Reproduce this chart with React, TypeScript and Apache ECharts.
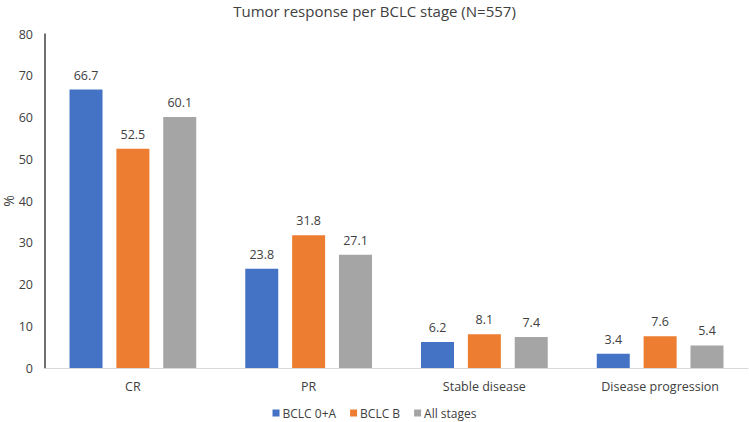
import React, { useEffect, useRef } from "react";
import * as echarts from "echarts";

const categories = ["CR", "PR", "Stable disease", "Disease progression"];
const seriesNames = ["BCLC 0+A", "BCLC B", "All stages"];
const bclc0A = [66.7, 23.8, 6.2, 3.4];
const bclcB = [52.5, 31.8, 8.1, 7.6];
const allStages = [60.1, 27.1, 7.4, 5.4];
const colors = ["#4472C4", "#ED7D31", "#A5A5A5"];

export default function App() {
  const ref = useRef<HTMLDivElement>(null);
  useEffect(() => {
    const chart = echarts.init(ref.current!, null, { renderer: "svg" });
    const font = "'Open Sans', sans-serif";
    const data = [bclc0A, bclcB, allStages];
    chart.setOption({
      animation: false,
      textStyle: { fontFamily: font },
      title: {
        text: "Tumor response per BCLC stage (N=557)",
        left: "center",
        top: 3,
        padding: 0,
        textStyle: { fontSize: 15, fontWeight: "normal", color: "#404040", fontFamily: font },
      },
      legend: {
        bottom: 3,
        left: "center",
        padding: 0,
        itemWidth: 7,
        itemHeight: 7,
        itemGap: 14,
        icon: "rect",
        textStyle: { fontSize: 12, color: "#404040", fontFamily: font, padding: [0, 0, 0, -2] },
        data: seriesNames,
      },
      grid: { left: 45, right: 1, top: 34, bottom: 54, outerBoundsMode: "none", containLabel: false },
      xAxis: {
        type: "category",
        data: categories,
        axisLine: { lineStyle: { color: "#D9D9D9", width: 1 } },
        axisTick: { show: false },
        axisLabel: { fontSize: 12.5, color: "#404040", margin: 12, fontFamily: font },
      },
      yAxis: {
        type: "value",
        min: 0,
        max: 80,
        interval: 10,
        name: "%",
        nameLocation: "middle",
        nameGap: 31,
        nameMoveOverlap: false,
        nameTextStyle: { fontSize: 14, lineHeight: 12, color: "#404040", fontFamily: font },
        axisLine: { show: true, lineStyle: { color: "#404040", width: 1.5 } },
        axisTick: { show: false },
        splitLine: { show: false },
        axisLabel: { fontSize: 12.5, color: "#404040", margin: 12, fontFamily: font },
      },
      series: seriesNames.map((name, i) => ({
        name,
        type: "bar",
        data: data[i],
        barWidth: 33,
        barGap: "42%",
        itemStyle: { color: colors[i] },
        label: {
          show: true,
          position: "top",
          distance: 8,
          fontSize: 12.5,
          color: "#404040",
          fontFamily: font,
          formatter: (p: any) => p.value.toFixed(1),
        },
      })),
    });
    return () => chart.dispose();
  }, []);
  return (
    <div
      ref={ref}
      style={{ position: "absolute", left: 0, top: 0, width: 749, height: 422 }}
    />
  );
}
